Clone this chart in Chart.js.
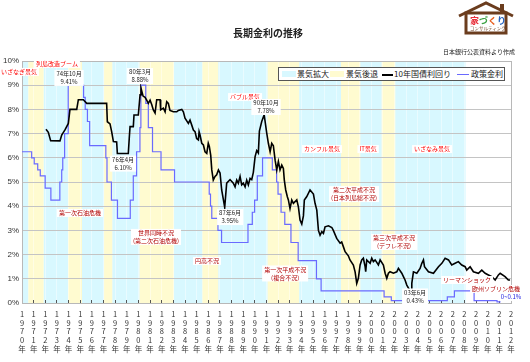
<!DOCTYPE html>
<html>
<head>
<meta charset="utf-8">
<script src="https://cdn.jsdelivr.net/npm/chart.js@4.4.1/dist/chart.umd.min.js"></script>
<style>
  body { margin: 0; background: #fff; }
  #wrap { position: relative; width: 530px; height: 362px; font-family: "Noto Sans CJK JP", sans-serif; }
  #chart { position: absolute; left: 0; top: 0; }
  #title { position: absolute; left: 0; top: 25px; width: 536px; text-align: center; font-size: 10px; font-weight: bold; color: #222; }
  #source { position: absolute; left: 443px; top: 47px; font-size: 6px; color: #222; white-space: nowrap; }
  #legend { position: absolute; left: 278px; top: 67px; width: 225px; height: 12px; border: 1px solid #555; background: #fff; font-size: 8px; color: #222; }
  #legend span { position: absolute; top: 0; line-height: 12px; white-space: nowrap; }
  #legend i { position: absolute; display: block; }
  #logo { position: absolute; left: 457px; top: 1px; }
</style>
</head>
<body>
<div id="wrap">
  <canvas id="chart" width="530" height="362"></canvas>
  <div id="title">長期金利の推移</div>
  <div id="source">日本銀行公表資料より作成</div>
  <div id="legend">
    <i style="left:3px;top:3px;width:14px;height:6px;background:#d8f8ff;"></i><span style="left:18px;">景気拡大</span>
    <i style="left:51px;top:3px;width:14px;height:6px;background:#fffbd0;"></i><span style="left:67px;">景気後退</span>
    <i style="left:103px;top:6px;width:11px;height:1.5px;background:#000;"></i><span style="left:115px;">10年国債利回り</span>
    <i style="left:178px;top:6px;width:12px;height:1px;background:#6a6aff;"></i><span style="left:192px;">政策金利</span>
  </div>
  <svg id="logo" width="58" height="34" viewBox="0 0 58 34">
    <polyline points="2,15 29,2 56,15" fill="none" stroke="#6b3d1e" stroke-width="3"/>
    <rect x="43" y="3" width="4" height="8" fill="#6b3d1e"/>
    <rect x="9" y="12" width="40" height="20" fill="#fff" stroke="#6b3d1e" stroke-width="3"/>
    <text x="13" y="23" font-size="9" font-weight="bold" font-family="Noto Sans CJK JP"><tspan fill="#e8303a">家</tspan><tspan fill="#3aa040">づ</tspan><tspan fill="#e86020">く</tspan><tspan fill="#2060c0">り</tspan></text>
    <text x="13" y="29" font-size="4.5" fill="#6b3d1e" font-family="Noto Sans CJK JP">コンサルティング</text>
  </svg>
</div>
<script>
// 10年国債利回り (年, %)
const yieldYears = [1972.06,1972.26,1972.46,1973.26,1973.41,1973.69,1973.98,1974.12,1974.70,1974.84,1975.27,1975.56,
  1977.27,1977.33,1977.56,1977.70,1977.85,1978.13,1978.19,1979.13,1979.22,1979.28,1979.56,1979.62,1979.99,
  1980.14,1980.22,1980.40,1980.57,1980.71,1980.85,1981.00,1981.14,1981.28,1981.43,1981.57,1981.86,1981.91,
  1982.14,1982.29,1982.43,1982.57,1982.71,1983.00,1983.29,1983.43,1983.72,1983.86,1984.00,1984.29,1984.43,
  1984.58,1984.72,1984.86,1985.00,1985.15,1985.21,1985.29,1985.44,1985.58,1985.72,1985.87,1986.00,1986.09,
  1986.21,1986.30,1986.43,1986.58,1986.72,1986.87,1987.01,1987.15,1987.30,1987.41,1987.58,1987.87,1988.15,
  1988.30,1988.44,1988.58,1988.73,1988.87,1989.01,1989.16,1989.30,1989.44,1989.59,1989.73,1989.87,1990.02,
  1990.16,1990.30,1990.39,1990.59,1990.80,1991.02,1991.16,1991.31,1991.45,1991.59,1991.74,1991.88,1992.02,
  1992.16,1992.31,1992.45,1992.53,1992.65,1992.79,1992.88,1993.02,1993.17,1993.31,1993.60,1993.74,1993.88,
  1994.03,1994.17,1994.25,1994.46,1994.74,1995.03,1995.17,1995.32,1995.46,1995.60,1995.75,1995.89,1996.03,
  1996.32,1996.61,1996.74,1997.03,1997.32,1997.46,1997.60,1997.75,1998.03,1998.17,1998.46,1998.61,1998.75,
  1998.89,1999.04,1999.18,1999.32,1999.47,1999.52,1999.61,1999.90,2000.04,2000.18,2000.33,2000.61,2000.76,
  2001.04,2001.19,2001.33,2001.47,2001.61,2001.90,2002.19,2002.33,2002.62,2002.76,2002.90,2003.05,2003.42,
  2003.48,2003.62,2003.91,2004.19,2004.34,2004.48,2004.57,2004.91,2005.34,2005.77,2006.06,2006.34,2006.63,
  2006.91,2007.20,2007.48,2007.77,2008.06,2008.20,2008.49,2008.77,2009.20,2009.49,2009.78,2010.06,2010.35,
  2010.64,2010.92,2011.07,2011.49,2011.77,2011.92];
const yieldRates = [7.18,7.05,6.71,6.70,6.94,7.15,7.42,8.00,8.00,8.40,8.40,8.25,
  8.25,7.49,7.40,7.08,6.67,6.65,6.18,6.18,6.87,7.29,7.29,7.77,7.77,
  8.60,8.88,8.55,8.50,8.38,8.25,8.38,8.20,7.98,7.85,8.40,8.40,7.98,
  8.05,7.90,8.32,8.25,7.96,7.90,7.90,7.96,8.00,7.90,7.64,7.42,7.56,
  7.35,7.15,7.08,6.80,6.74,7.08,6.94,6.60,6.53,6.25,6.18,6.60,6.47,
  6.10,5.50,5.08,5.23,5.30,5.50,5.37,4.67,4.26,3.95,4.95,5.10,4.95,
  4.80,5.08,4.95,5.23,4.88,4.95,4.80,5.08,4.88,5.15,5.10,5.40,6.05,
  6.30,6.20,7.10,7.50,7.78,7.02,6.60,6.25,6.60,6.50,5.90,5.50,5.85,
  5.50,5.70,5.56,5.08,4.67,4.39,4.26,3.90,4.26,4.12,4.26,3.97,3.43,
  3.26,3.60,4.26,4.40,4.67,4.50,4.12,3.84,3.00,2.80,2.95,2.88,3.15,
  3.19,3.12,3.00,2.67,2.47,2.52,2.33,2.12,1.95,1.78,1.57,1.29,0.81,
  1.02,1.57,1.78,1.85,1.50,1.29,1.78,1.64,1.85,1.71,1.78,1.57,1.78,
  1.57,1.23,1.02,1.23,1.29,1.23,1.29,1.43,1.23,1.09,0.95,0.74,0.43,
  0.81,1.29,1.23,1.43,1.64,1.78,1.50,1.29,1.23,1.50,1.64,1.85,1.78,
  1.57,1.64,1.71,1.57,1.50,1.36,1.50,1.29,1.23,1.36,1.23,1.16,1.09,
  0.95,1.16,1.23,1.09,0.95,0.95];

// 政策金利 (変更日, %)
const policyYears = [1970.00,1970.83,1971.05,1971.35,1971.57,1971.99,1972.48,1973.25,1973.41,1973.50,1973.66,1973.97,
  1975.29,1975.43,1975.62,1975.81,1977.20,1977.30,1977.68,1978.20,1979.30,1979.56,1979.84,1980.13,1980.21,
  1980.63,1980.85,1981.21,1981.94,1983.10,1986.08,1986.19,1986.30,1986.83,1987.14,1989.41,1989.78,1989.98,
  1990.21,1990.66,1991.50,1991.87,1991.99,1992.25,1992.57,1993.10,1993.72,1995.29,1995.69,2001.10,2001.72,
  2006.53,2007.14,2008.83,2010.80,2011.10];
const policyRates = [6.25,6.00,5.75,5.50,5.25,4.75,4.25,5.00,5.50,6.00,7.00,9.00,
  8.50,8.00,7.50,6.50,6.00,5.00,4.25,3.50,4.25,5.25,6.25,7.25,9.00,
  8.25,7.25,6.25,5.50,5.00,4.50,4.00,3.50,3.00,2.50,3.25,3.75,4.25,
  5.25,6.00,5.50,5.00,4.50,3.75,3.25,2.50,1.75,1.00,0.50,0.25,0.10,
  0.25,0.50,0.10,0.05,0.05];

// 景気後退期
const recessionStart = [1970.55,1973.95,1977.05,1980.10,1985.50,1991.10,1997.40,2000.90];
const recessionEnd   = [1971.85,1975.15,1977.75,1983.05,1986.85,1993.80,1999.05,2002.05];
// 景気拡大期
const expansionStart = [1970.00,1971.85,1975.15,1977.75,1983.05,1986.85,1993.80,1999.05,2002.05];
const expansionEnd   = [1970.55,1973.95,1977.05,1980.10,1985.50,1991.10,1997.40,2000.90,2008.10];

const yearMin = 1970, yearMax = 2012;
const rateTicks = [0,1,2,3,4,5,6,7,8,9,10];

// 注記
const notes = [
  { text: ['いざなぎ景気'], x: 1969.74, y: 9.55, color: '#ff0000' },
  { text: ['列島改造ブーム'], x: 1973.0, y: 9.88, color: '#ff0000' },
  { text: ['74年10月', '9.41%'], x: 1974.04, y: 9.30, color: '#222' },
  { text: ['80年3月', '8.88%'], x: 1980.14, y: 9.38, color: '#222' },
  { text: ['バブル景気'], x: 1989.16, y: 8.51, color: '#ff0000' },
  { text: ['90年10月', '7.78%'], x: 1990.96, y: 8.10, color: '#222' },
  { text: ['76年4月', '6.10%'], x: 1978.68, y: 5.76, color: '#222' },
  { text: ['87年6月', '3.95%'], x: 1987.87, y: 3.55, color: '#222' },
  { text: ['第一次石油危機'], x: 1974.98, y: 3.72, color: '#b00000' },
  { text: ['世界同時不況', '(第二次石油危機)'], x: 1981.51, y: 2.73, color: '#b00000' },
  { text: ['円高不況'], x: 1985.89, y: 1.74, color: '#b00000' },
  { text: ['カンフル景気'], x: 1995.77, y: 6.36, color: '#ff0000' },
  { text: ['IT景気'], x: 1999.73, y: 6.36, color: '#ff0000' },
  { text: ['いざなみ景気'], x: 2005.22, y: 6.36, color: '#ff0000' },
  { text: ['第二次平成不況', '(日本列島総不況)'], x: 1998.52, y: 4.50, color: '#b00000' },
  { text: ['第一次平成不況', '(複合不況)'], x: 1992.6, y: 1.22, color: '#b00000' },
  { text: ['第三次平成不況', '(デフレ不況)'], x: 2001.96, y: 2.52, color: '#b00000' },
  { text: ['リーマンショック'], x: 2008.23, y: 0.95, color: '#b00000' },
  { text: ['欧州ソブリン危機'], x: 2010.72, y: 0.58, color: '#b00000' },
  { text: ['0~0.1%'], x: 2012.0, y: 0.25, color: '#2020e0' },
  { text: ['03年6月', '0.43%'], x: 2003.76, y: 0.27, color: '#222' }
];

// 景気の帯を描く
const bandPlugin = {
  id: 'bands',
  beforeDraw(chart) {
    const { ctx, chartArea: a, scales: { x } } = chart;
    ctx.save();
    const fillBand = (s, e, color) => {
      const x1 = x.getPixelForValue(s), x2 = x.getPixelForValue(e);
      ctx.fillStyle = color;
      ctx.fillRect(x1, a.top, x2 - x1, a.bottom - a.top);
    };
    expansionStart.forEach((s, i) => fillBand(s, expansionEnd[i], '#d8f8ff'));
    recessionStart.forEach((s, i) => fillBand(s, recessionEnd[i], '#fffbd0'));
    ctx.restore();
  },
  beforeDatasetsDraw(chart) {
    const { ctx, chartArea: a } = chart;
    ctx.save();
    ctx.strokeStyle = '#b8b8b8';
    ctx.lineWidth = 1;
    ctx.strokeRect(Math.round(a.left) + 0.5, Math.round(a.top) + 0.5, a.right - a.left, a.bottom - a.top);
    ctx.restore();
  }
};

// 注記ラベル
const notePlugin = {
  id: 'notes',
  afterDatasetsDraw(chart) {
    const { ctx, scales: { x, y } } = chart;
    ctx.save();
    ctx.font = '6px "Noto Sans CJK JP"';
    ctx.textAlign = 'center';
    ctx.textBaseline = 'middle';
    const lh = 8;
    notes.forEach(n => {
      const cx = x.getPixelForValue(n.x), cy = y.getPixelForValue(n.y);
      const w = Math.max(...n.text.map(t => ctx.measureText(t).width)) + 4;
      const h = n.text.length * lh;
      ctx.fillStyle = '#fff';
      ctx.fillRect(cx - w / 2, cy - h / 2, w, h);
      ctx.fillStyle = n.color;
      n.text.forEach((t, i) => ctx.fillText(t, cx, cy - h / 2 + lh / 2 + i * lh));
    });
    ctx.restore();
  }
};

new Chart(document.getElementById('chart'), {
  type: 'line',
  data: {
    datasets: [
      {
        label: '10年国債利回り',
        data: yieldYears.map((yr, i) => ({ x: yr, y: yieldRates[i] })),
        borderColor: '#000',
        borderWidth: 1.6,
        pointRadius: 0,
        tension: 0
      },
      {
        label: '政策金利',
        data: policyYears.map((yr, i) => ({ x: yr, y: policyRates[i] })),
        borderColor: '#6a6aff',
        borderWidth: 1.2,
        pointRadius: 0,
        stepped: true
      }
    ]
  },
  options: {
    responsive: false,
    animation: false,
    layout: { padding: { top: 61, right: 19, left: 0, bottom: 0 } },
    plugins: { legend: { display: false }, tooltip: { enabled: false } },
    scales: {
      x: {
        type: 'linear',
        min: yearMin,
        max: yearMax,
        afterFit: scale => { scale.height = 59; },
        afterBuildTicks: scale => {
          scale.ticks = [];
          for (let v = yearMin; v <= yearMax; v++) scale.ticks.push({ value: v });
        },
        ticks: {
          autoSkip: false,
          maxRotation: 0,
          padding: 10,
          color: '#333',
          font: { size: 7.5, family: '"Noto Sans CJK JP", sans-serif', lineHeight: 1.15 },
          callback: v => String(v).split('').concat('年')
        },
        grid: { color: 'rgba(255,255,255,0.45)', tickColor: '#555', tickLength: -3 },
        border: { color: '#666' }
      },
      y: {
        min: 0,
        max: 10,
        afterFit: scale => { scale.width = 22; },
        afterBuildTicks: scale => { scale.ticks = rateTicks.map(v => ({ value: v })); },
        ticks: {
          padding: 3,
          color: '#333',
          font: { size: 8, family: '"Liberation Sans", Arial, sans-serif' },
          callback: v => v + '%'
        },
        grid: { color: '#c4c4c4', drawTicks: false },
        border: { color: '#666' }
      }
    }
  },
  plugins: [bandPlugin, notePlugin]
});
</script>
</body>
</html>
